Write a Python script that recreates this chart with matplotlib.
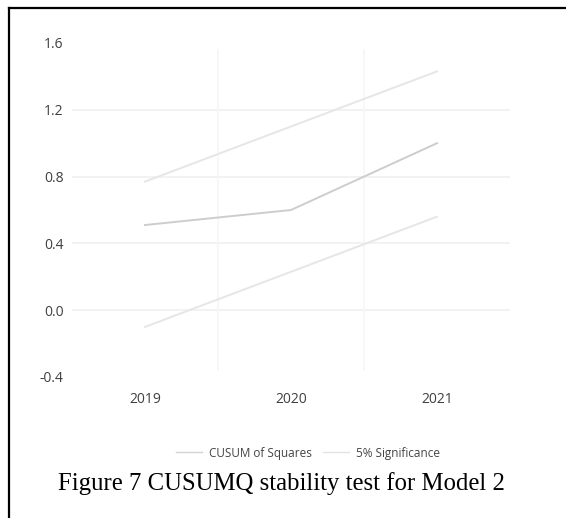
import matplotlib.pyplot as plt
from matplotlib.lines import Line2D

# Datos
years = ["2019", "2020", "2021"]
cusum_sq = [0.51, 0.60, 1.00]
upper_5 = [0.77, 1.10, 1.43]
lower_5 = [-0.10, 0.23, 0.56]
y_ticks = [-0.4, 0.0, 0.4, 0.8, 1.2, 1.6]

fig = plt.figure(figsize=(5.66, 5.18), dpi=100)
ax = fig.add_axes([72 / 566, 1 - 377 / 518, 438 / 566, 334 / 518])

x = range(len(years))
ax.plot(x, upper_5, color="#e6e6e6", lw=1.4)
ax.plot(x, lower_5, color="#e6e6e6", lw=1.4)
ax.plot(x, cusum_sq, color="#cdcdcd", lw=1.4)

ax.set_xlim(-0.5, len(years) - 0.5)
ax.set_ylim(-0.4, 1.6)
ax.set_yticks(y_ticks)
ax.set_yticklabels([f"{v:.1f}" for v in y_ticks])
ax.set_xticks(list(x))
ax.set_xticklabels(years)

# cuadrícula horizontal
for v in y_ticks[1:-1]:
    ax.axhline(v, color="#f0f0f0", lw=1.2, zorder=0)
# separadores verticales entre categorías
for b in [0.5, 1.5]:
    ax.plot([b, b], [-0.36, 1.56], color="#f6f6f6", lw=1.2, zorder=0)

for s in ax.spines.values():
    s.set_visible(False)
ax.tick_params(length=0, labelsize=10, colors="#3f3f3f")
ax.tick_params(axis="y", pad=6)
ax.tick_params(axis="x", pad=11)
for t in ax.get_xticklabels() + ax.get_yticklabels():
    t.set_fontfamily("Open Sans")

handles = [Line2D([0], [0], color="#d2d2d2", lw=1),
           Line2D([0], [0], color="#e2e2e2", lw=1)]
leg = fig.legend(handles, ["CUSUM of Squares", "5% Significance"],
                 loc="center", bbox_to_anchor=(308 / 566, 1 - 453 / 518),
                 ncol=2, frameon=False, handlelength=2.2, columnspacing=1.0,
                 handletextpad=0.6,
                 prop={"family": "Open Sans", "size": 8.5})
for t in leg.get_texts():
    t.set_color("#444444")

fig.text(281 / 566, 1 - 484 / 518, "Figure 7 CUSUMQ stability test for Model 2",
         ha="center", va="center", fontsize=17.8, family="Liberation Serif",
         color="black")

# marco (solo arriba e izquierda)
fig.add_artist(Line2D([9 / 566, 9 / 566], [0, 1 - 8 / 518], color="black", lw=1.6,
                      transform=fig.transFigure))
fig.add_artist(Line2D([9 / 566, 1], [1 - 8 / 518, 1 - 8 / 518], color="black", lw=1.6,
                      transform=fig.transFigure))

fig.savefig("out.png", dpi=100)
